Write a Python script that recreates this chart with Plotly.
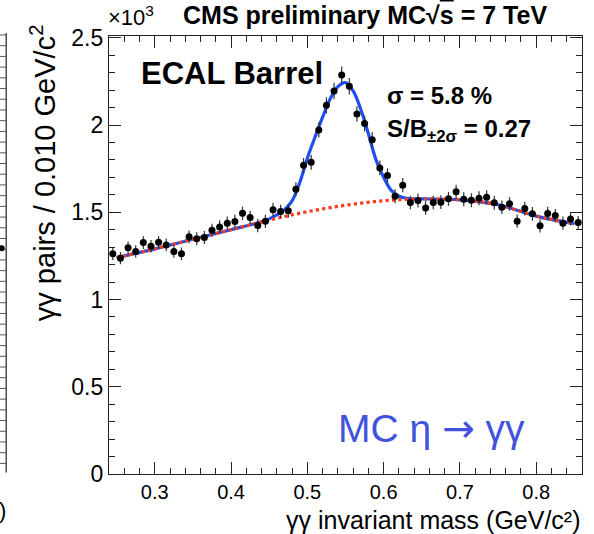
import plotly.graph_objects as go

# ---- data (units of 10^3 pairs) ----
mass = [0.245, 0.255, 0.265, 0.275, 0.285, 0.295, 0.305, 0.315, 0.325, 0.335,
        0.345, 0.355, 0.365, 0.375, 0.385, 0.395, 0.405, 0.415, 0.425, 0.435,
        0.445, 0.455, 0.465, 0.475, 0.485, 0.495, 0.505, 0.515, 0.525, 0.535,
        0.545, 0.555, 0.565, 0.575, 0.585, 0.595, 0.605, 0.615, 0.625, 0.635,
        0.645, 0.655, 0.665, 0.675, 0.685, 0.695, 0.705, 0.715, 0.725, 0.735,
        0.745, 0.755, 0.765, 0.775, 0.785, 0.795, 0.805, 0.815, 0.825, 0.835,
        0.845, 0.855]
counts = [1.262, 1.237, 1.296, 1.275, 1.326, 1.305, 1.328, 1.313, 1.275, 1.262,
          1.359, 1.348, 1.355, 1.397, 1.416, 1.437, 1.447, 1.494, 1.470, 1.424,
          1.448, 1.515, 1.504, 1.508, 1.632, 1.769, 1.786, 1.972, 2.113, 2.195,
          2.287, 2.222, 2.063, 2.008, 1.916, 1.754, 1.710, 1.592, 1.655, 1.556,
          1.567, 1.525, 1.556, 1.558, 1.577, 1.617, 1.575, 1.569, 1.580, 1.586,
          1.554, 1.529, 1.548, 1.449, 1.521, 1.491, 1.422, 1.493, 1.481, 1.437,
          1.462, 1.441]
errors = [0.036, 0.035, 0.036, 0.036, 0.036, 0.036, 0.036, 0.036, 0.036, 0.036,
          0.037, 0.037, 0.037, 0.037, 0.038, 0.038, 0.038, 0.039, 0.038, 0.038,
          0.038, 0.039, 0.039, 0.039, 0.040, 0.042, 0.042, 0.044, 0.046, 0.047,
          0.048, 0.047, 0.045, 0.045, 0.044, 0.042, 0.041, 0.040, 0.041, 0.039,
          0.040, 0.039, 0.039, 0.039, 0.040, 0.040, 0.040, 0.040, 0.040, 0.040,
          0.039, 0.039, 0.039, 0.038, 0.039, 0.039, 0.038, 0.039, 0.038, 0.038,
          0.038, 0.038]

fit_x = [0.25, 0.30, 0.35, 0.40, 0.44, 0.45, 0.46, 0.47, 0.48, 0.49, 0.50, 0.51,
         0.52, 0.53, 0.54, 0.55, 0.56, 0.57, 0.58, 0.59, 0.60, 0.61, 0.62, 0.63,
         0.65, 0.70, 0.75, 0.80, 0.85]
fit_total = [1.240, 1.290, 1.345, 1.400, 1.445, 1.462, 1.485, 1.515, 1.565, 1.670,
             1.810, 1.930, 2.045, 2.150, 2.220, 2.243, 2.195, 2.090, 1.950, 1.800,
             1.700, 1.625, 1.592, 1.580, 1.577, 1.571, 1.543, 1.478, 1.435]
bkg_x = [0.25, 0.30, 0.35, 0.40, 0.45, 0.50, 0.55, 0.60, 0.65, 0.70, 0.75, 0.80, 0.85]
bkg_y = [1.240, 1.290, 1.345, 1.400, 1.455, 1.503, 1.540, 1.566, 1.576, 1.571,
         1.543, 1.478, 1.435]

x_ticks = [0.3, 0.4, 0.5, 0.6, 0.7, 0.8]
y_ticks = [0, 0.5, 1, 1.5, 2, 2.5]
y_ticktext = ["0", "0.5", "1", "1.5", "2", "2.5"]

FONT = "Liberation Sans, Arial, sans-serif"
L, R, T, B = 109.3, 582.3, 36.0, 473.6
W, H = R - L, B - T

def px(p):
    return (p - L) / W

def py(p):
    return (B - p) / H

fig = go.Figure()
fig.add_trace(go.Scatter(x=fit_x, y=fit_total, mode="lines", line_shape="spline",
                         line=dict(color="#1f4fee", width=3.2), hoverinfo="skip"))
fig.add_trace(go.Scatter(x=bkg_x, y=bkg_y, mode="lines", line_shape="spline",
                         line=dict(color="#ff3a1a", width=3.2, dash="dot"), hoverinfo="skip"))
fig.add_trace(go.Scatter(x=mass, y=counts, mode="markers",
                         marker=dict(color="black", size=7),
                         error_y=dict(type="data", array=errors, color="#333333",
                                      thickness=1.2, width=0)))

axis_common = dict(showgrid=False, zeroline=False, showline=True, linecolor="#222222",
                   linewidth=1.3, mirror="allticks", ticks="inside", tickcolor="#222222",
                   tickwidth=1.2, ticklen=12)
fig.update_xaxes(range=[0.24, 0.86], tickvals=x_ticks, ticktext=[f"{v:.1f}" for v in x_ticks],
                 tickfont=dict(family=FONT, size=20, color="black"), ticklabelstandoff=0,
                 minor=dict(dtick=0.02, tick0=0.24, ticks="inside", ticklen=6,
                            tickcolor="#222222", tickwidth=1.2),
                 **axis_common)
fig.update_yaxes(range=[0, 2.51], tickvals=y_ticks, ticktext=y_ticktext,
                 tickfont=dict(family=FONT, size=23, color="black"),
                 minor=dict(dtick=0.1, tick0=0, ticks="inside", ticklen=6,
                            tickcolor="#222222", tickwidth=1.2),
                 **axis_common)

ann = []
def add(text, x, y, size, xanchor="left", yanchor="middle", bold=False, color="black", angle=0):
    ann.append(dict(text=f"<b>{text}</b>" if bold else text, x=x, y=y, xref="paper", yref="paper",
                    xanchor=xanchor, yanchor=yanchor, showarrow=False, textangle=angle,
                    font=dict(family=FONT, size=size, color=color)))

add("γγ invariant mass (GeV/c²)", px(583), py(536), 25, xanchor="right", yanchor="bottom")
add("γγ pairs / 0.010 GeV/c<sup>2</sup>", px(24), py(22), 29, xanchor="left", yanchor="top", angle=-90)
add("×10<sup>3</sup>", px(106), py(16), 22)
add("CMS preliminary MC√<span style='text-decoration:overline'>s</span> = 7 TeV", px(181), py(15), 25, bold=True)
add("ECAL Barrel", px(139), py(73), 31, bold=True)
add("σ = 5.8 %", px(385), py(95), 24, bold=True)
add("S/B<sub>±2σ</sub> = 0.27", px(385), py(130), 24, bold=True)
add("MC η <span style='font-family:DejaVu Sans'>→</span> γγ", px(336), py(428), 39, color="#4352dc")

# fragment of neighbouring panel at the left edge
shapes = [dict(type="line", xref="paper", yref="paper", x0=px(6.5), x1=px(6.5), y0=py(33), y1=py(472),
               line=dict(color="#333333", width=1.3))]
for k in range(41):
    yy = 35 + k * 10.7
    shapes.append(dict(type="line", xref="paper", yref="paper", x0=px(0), x1=px(6.5),
                       y0=py(yy), y1=py(yy), line=dict(color="#555555", width=1)))
shapes.append(dict(type="circle", xref="paper", yref="paper", x0=px(-1), x1=px(5),
                   y0=py(251), y1=py(245), fillcolor="black", line=dict(width=0)))
add(")", px(-3), py(510), 22)

fig.update_layout(width=594, height=534, margin=dict(l=109.3, r=594 - 582.3, t=36, b=534 - 473.6),
                  paper_bgcolor="white", plot_bgcolor="white", showlegend=False,
                  annotations=ann, shapes=shapes, font=dict(family=FONT))
fig.write_html("out.html")
